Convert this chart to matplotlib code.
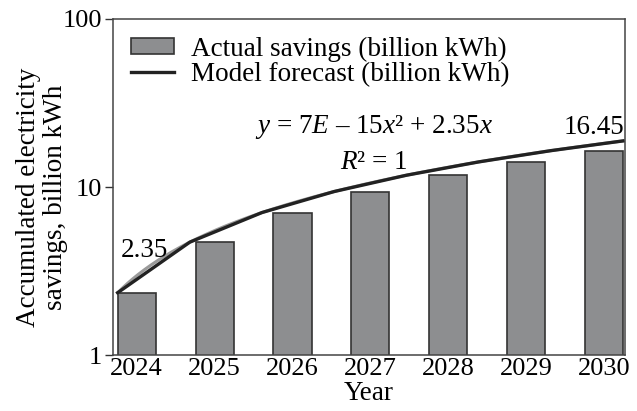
import matplotlib
matplotlib.use("Agg")
import matplotlib.pyplot as plt
import numpy as np

years = ["2024", "2025", "2026", "2027", "2028", "2029", "2030"]
actual = [2.35, 4.70, 7.05, 9.40, 11.75, 14.10, 16.45]
forecast = [2.35, 4.70, 7.05, 9.40, 11.75, 14.10, 16.45, 18.80]
trend_a = 7e-15
trend_b = 2.35
y_ticks = [1, 10, 100]
y_tick_labels = ["1", "10", "100"]

plt.rcParams['font.family'] = ['Liberation Serif', 'DejaVu Serif']
plt.rcParams['mathtext.fontset'] = 'custom'
plt.rcParams['mathtext.rm'] = 'Liberation Serif'
plt.rcParams['mathtext.it'] = 'Liberation Serif:italic'

fs_t = 19
fs = 19.5
fig = plt.figure(figsize=(6.37, 4.11), dpi=100)
ax = fig.add_axes([0.178, 0.136, 0.803, 0.818])

x = np.arange(len(years))
bw = 0.49
bars = ax.bar(x, actual, width=bw, color='#8d8e90', edgecolor='#333333', linewidth=1.2,
              label='Actual savings (billion kWh)', zorder=2)

xf = np.linspace(x[0] - bw / 2, x[-1] + bw / 2, len(forecast))
k = np.linspace(1, len(forecast), 300)
xs = np.linspace(xf[0], xf[-1], 300)
ax.plot(xs, trend_a * k**2 + trend_b * k, color='#9a9a9a', lw=2.2, zorder=3)
line, = ax.plot(xf, forecast, color='#222222', lw=2.4, label='Model forecast (billion kWh)',
                zorder=4, solid_joinstyle='round')

ax.set_yscale('log')
ax.set_ylim(1, 100)
ax.set_xlim(-0.3, 6.27)
ax.set_yticks(y_ticks)
ax.set_yticklabels(y_tick_labels)
ax.yaxis.set_minor_locator(matplotlib.ticker.NullLocator())
ax.set_xticks(x)
ax.set_xticklabels(years)
ax.tick_params(axis='x', length=0, pad=2, labelsize=fs_t)
ax.tick_params(axis='y', length=6, width=1, pad=2, labelsize=fs_t, color='#333333')
for s in ax.spines.values():
    s.set_color('#444444')
    s.set_linewidth(1.1)

ax.set_xlabel('Year', fontsize=fs, labelpad=1)
ax.set_ylabel('Accumulated electricity\nsavings, billion kWh', fontsize=fs, linespacing=1.15)
ax.yaxis.set_label_coords(-0.088, 0.47)

ax.legend([bars, line], [bars.get_label(), line.get_label()],
          loc='upper left', frameon=False, fontsize=fs, handlelength=1.6, handleheight=0.5,
          borderaxespad=0.45, labelspacing=0.0, handletextpad=0.6, borderpad=0.2)

ax.text(x[0] - 0.2, actual[0] * 1.78, '2.35', fontsize=fs, ha='left', va='center')
ax.text(x[-1] + bw / 2 + 0.02, 19.1, '16.45', fontsize=fs, ha='right', va='bottom')
ax.text(3.05, 18.7, r'$y$ = 7$E$ – 15$x$² + 2.35$x$', fontsize=fs, ha='center', va='bottom')
ax.text(3.05, 14.0, r'$R$² = 1', fontsize=fs, ha='center', va='center')

fig.savefig('out.png', dpi=100)
